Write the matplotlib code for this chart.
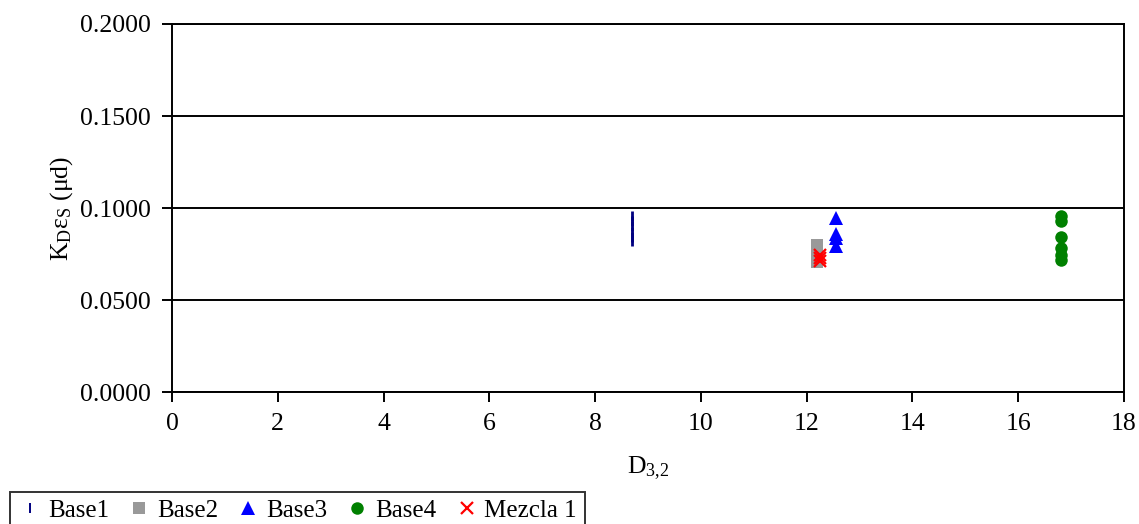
import matplotlib
matplotlib.use("Agg")
import matplotlib.pyplot as plt

plt.rcParams['font.family'] = ['Liberation Serif', 'DejaVu Serif']
plt.rcParams['mathtext.fontset'] = 'custom'
plt.rcParams['mathtext.rm'] = 'Liberation Serif'
plt.rcParams['mathtext.it'] = 'Liberation Serif:italic'

# Sauter mean diameter (D3,2) and K_D*eps_S readings for each sample
base1_x = [8.70, 8.70, 8.70, 8.70, 8.70, 8.70]
base1_y = [0.0957, 0.0930, 0.0900, 0.0870, 0.0845, 0.0821]

base2_x = [12.20, 12.20, 12.20, 12.20]
base2_y = [0.0800, 0.0760, 0.0725, 0.0707]

base3_x = [12.55, 12.55, 12.55, 12.55]
base3_y = [0.0946, 0.0860, 0.0835, 0.0795]

base4_x = [16.80, 16.80, 16.80, 16.80, 16.80, 16.80]
base4_y = [0.0958, 0.0928, 0.0842, 0.0780, 0.0745, 0.0715]

mezcla_x = [12.25, 12.25, 12.25]
mezcla_y = [0.0745, 0.0728, 0.0712]

series_names = ['Base1', 'Base2', 'Base3', 'Base4', 'Mezcla 1']
x_ticks = [0, 2, 4, 6, 8, 10, 12, 14, 16, 18]
y_ticks = [0.0, 0.05, 0.10, 0.15, 0.20]

FS = 18.5
LFS = 18

fig = plt.figure(figsize=(11.39, 5.24), dpi=100)
ax = fig.add_axes([0.1510, 0.2519, 0.8358, 0.7023])

ax.plot(base1_x, base1_y, linestyle='none', marker='|', markersize=7,
        markeredgewidth=2.0, color='#000080', label=series_names[0])
ax.plot(base2_x, base2_y, linestyle='none', marker='s', markersize=9,
        color='#999999', markeredgewidth=0, label=series_names[1])
ax.plot(base3_x, base3_y, linestyle='none', marker='^', markersize=10,
        color='#0000FF', markeredgewidth=0, label=series_names[2])
ax.plot(base4_x, base4_y, linestyle='none', marker='o', markersize=9,
        color='#008000', markeredgewidth=0, label=series_names[3])
ax.plot(mezcla_x, mezcla_y, linestyle='none', marker='x', markersize=9,
        markeredgewidth=1.6, color='#FF0000', label=series_names[4])

ax.set_xlim(0, 18)
ax.set_ylim(0, 0.2)
ax.set_xticks(x_ticks)
ax.set_yticks(y_ticks)
ax.set_yticklabels([f"{v:.4f}" for v in y_ticks])

ax.yaxis.grid(True, color='black', linewidth=1.4)
ax.set_axisbelow(True)
for s in ax.spines.values():
    s.set_color('black')
    s.set_linewidth(1.4)

ax.tick_params(axis='both', direction='out', length=7, width=1.4,
               labelsize=FS, colors='black', pad=8)

ax.set_xlabel(r'D$_{\rm 3{,}2}$', fontsize=FS, labelpad=14)
ax.set_ylabel(r'K$_{\rm D}$ε$_{\rm S}$ (μd)', fontsize=FS, labelpad=4)

leg = fig.legend(loc='upper left', bbox_to_anchor=(10 / 1139, 1 - 492 / 524),
                 ncol=5, fontsize=LFS, frameon=True, fancybox=False,
                 edgecolor='black', handlelength=1.0, handletextpad=0.22,
                 columnspacing=0.7, borderpad=0.3, borderaxespad=0)
leg.get_frame().set_linewidth(1.4)
for h in leg.legend_handles:
    if h.get_marker() == '|':
        h.set_markeredgewidth(1.4)

fig.savefig('out.png', dpi=100)
